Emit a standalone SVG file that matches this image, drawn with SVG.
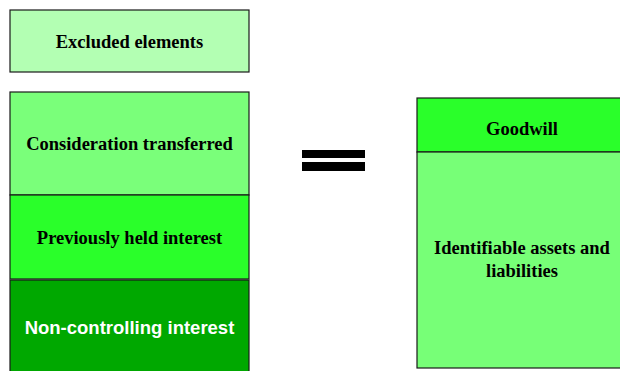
<svg xmlns="http://www.w3.org/2000/svg" width="620" height="371" viewBox="0 0 620 371">
<style>
.box{stroke:#1a1a1a;stroke-width:1.2}
.t{font-family:"Liberation Serif",serif;font-weight:bold;font-size:18.5px;fill:#000;text-anchor:middle}
.w{font-family:"Liberation Sans",sans-serif;font-weight:bold;font-size:18.5px;fill:#fff;text-anchor:middle}
</style>
<rect width="620" height="371" fill="#fff"/>
<g id="excluded"><rect class="box" x="10" y="10" width="239" height="62" fill="#b3ffb3"/><text class="t" x="129.5" y="48">Excluded elements</text></g>
<g id="consideration"><rect class="box" x="10" y="92" width="239" height="103" fill="#7aff7a"/><text class="t" x="129.5" y="150">Consideration transferred</text></g>
<g id="previously"><rect class="box" x="10" y="195" width="239" height="84" fill="#2aff2a"/><text class="t" x="129.5" y="244">Previously held interest</text></g>
<g id="noncontrolling"><rect class="box" x="10" y="280" width="239" height="100" fill="#00a800" stroke="#149014"/><text class="w" x="129.5" y="334">Non-controlling interest</text></g>
<g id="equals"><rect x="302" y="150" width="63" height="8" fill="#000"/><rect x="302" y="162" width="63" height="9" fill="#000"/></g>
<g id="goodwill"><rect class="box" x="417" y="98" width="210" height="54" fill="#2aff2a"/><text class="t" x="522" y="135">Goodwill</text></g>
<g id="identifiable"><rect class="box" x="417" y="152" width="210" height="216" fill="#77ff77"/><text class="t" x="522" y="254">Identifiable assets and</text><text class="t" x="522" y="277">liabilities</text></g>
<g id="connectors"></g>
</svg>
